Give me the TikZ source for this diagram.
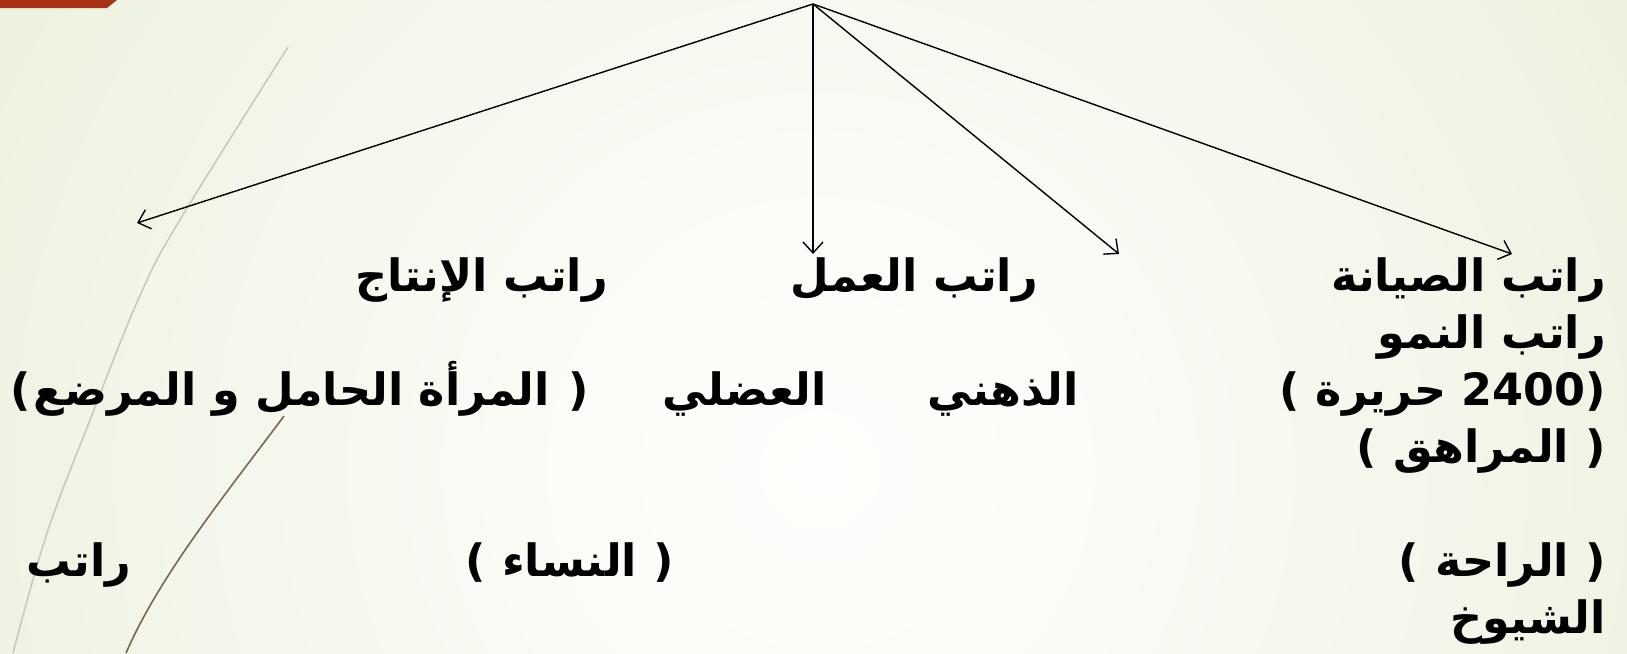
\documentclass[tikz,border=0pt]{standalone}
\usepackage{fontspec}
\usetikzlibrary{arrows.meta}
\TeXXeTstate=1
\newfontfamily\arfont[Script=Arabic]{DejaVu Sans}
\newfontfamily\latfont{DejaVu Sans}
\definecolor{barred}{RGB}{168,50,20}
\definecolor{bgA}{RGB}{253,253,251}
\definecolor{bgB}{RGB}{251,252,247}
\definecolor{bgC}{RGB}{243,246,234}
\definecolor{bgD}{RGB}{234,240,219}
\definecolor{bgE}{RGB}{227,235,206}
\definecolor{bgF}{RGB}{220,230,193}
\definecolor{curvegray}{RGB}{200,202,186}
\definecolor{curvebrown}{RGB}{118,104,80}
\pgfdeclareradialshading{bgshade}{\pgfpoint{0bp}{0bp}}{%
  color(0bp)=(bgA); color(6bp)=(bgB); color(16bp)=(bgC); color(26bp)=(bgD); color(36bp)=(bgE); color(50bp)=(bgF)}
\tikzset{
  lbl/.style={font=\arfont\bfseries\fontsize{44.5}{52}\selectfont, inner sep=0pt, text=black},
  par/.style={font=\latfont\bfseries\fontsize{44.5}{52}\selectfont, inner sep=0pt, text=black},
  arr/.style={line width=1.4pt, -{Straight Barb[length=11pt,width=20pt,line width=1.4pt]}},
}
\begin{document}
\begin{tikzpicture}[x=1pt,y=-1pt]
\useasboundingbox (0,0) rectangle (1627,653);
\begin{scope}
\clip (0,0) rectangle (1627,653);
\shade[shading=bgshade] (-180,-530) rectangle (1820,1470);
\fill[barred] (0,0) -- (117,0) -- (107,8) -- (0,8) -- cycle;
\draw[curvegray, line width=1.6pt] plot[smooth, tension=0.6] coordinates {(288,47) (178,223) (138,300) (90,420) (47,533) (13,653)};
\draw[curvebrown, line width=1.6pt] (284,416) .. controls (225,495) and (160,575) .. (126,653);
\end{scope}
% row 1
\node[lbl, anchor=base east] (prod) at (608,291) {\beginR راتب الإنتاج\endR};
\node[lbl, anchor=base east] (work) at (1038,291) {\beginR راتب العمل\endR};
\node[lbl, anchor=base east] (maint) at (1606,291) {\beginR راتب الصيانة\endR};
\node[lbl, anchor=base east] (growth) at (1606,348) {\beginR راتب النمو\endR};
% (2400 calories)
\node[par, anchor=base east] (calR) at (1606,405) {2400)};
\node[lbl, anchor=base east] (cal) at ([xshift=-15pt]calR.base west) {\beginR حريرة\endR};
\node[par, anchor=base east] (calL) at ([xshift=-16pt]cal.base west) {(};
% (adolescent)
\node[par, anchor=base east] (teenR) at (1606,462) {)};
\node[lbl, anchor=base east] (teen) at ([xshift=-16pt]teenR.base west) {\beginR المراهق\endR};
\node[par, anchor=base east] (teenL) at ([xshift=-16pt]teen.base west) {(};
% row 2
\node[par, anchor=base west] (pregL) at (10,405) {(};
\node[lbl, anchor=base west] (preg) at ([xshift=3pt]pregL.base east) {\beginR المرأة الحامل و المرضع\endR};
\node[par, anchor=base west] (pregR) at ([xshift=18pt]preg.base east) {)};
\node[lbl, anchor=base east] (muscle) at (827,405) {\beginR العضلي\endR};
\node[lbl, anchor=base east] (mental) at (1079,405) {\beginR الذهني\endR};
% row 3
\node[lbl, anchor=base west] (salary) at (26,576) {\beginR راتب\endR};
\node[par, anchor=base east] (womenR) at (674,576) {)};
\node[lbl, anchor=base east] (women) at ([xshift=-16pt]womenR.base west) {\beginR النساء\endR};
\node[par, anchor=base east] (womenL) at ([xshift=-16pt]women.base west) {(};
\node[par, anchor=base east] (restR) at (1606,576) {)};
\node[lbl, anchor=base east] (rest) at ([xshift=-16pt]restR.base west) {\beginR الراحة\endR};
\node[par, anchor=base east] (restL) at ([xshift=-16pt]rest.base west) {(};
\node[lbl, anchor=base east] (elder) at (1606,633) {\beginR الشيوخ\endR};
% connectors
\coordinate (apex) at (813,4);
\coordinate (t1) at (137,223);
\coordinate (t2) at (813,254);
\coordinate (t3) at (1119,254);
\coordinate (t4) at (1512,254);
\draw[arr] (apex) -- (t1);
\draw[arr] (apex) -- (t2);
\draw[arr] (apex) -- (t3);
\draw[arr] (apex) -- (t4);
\end{tikzpicture}
\end{document}
